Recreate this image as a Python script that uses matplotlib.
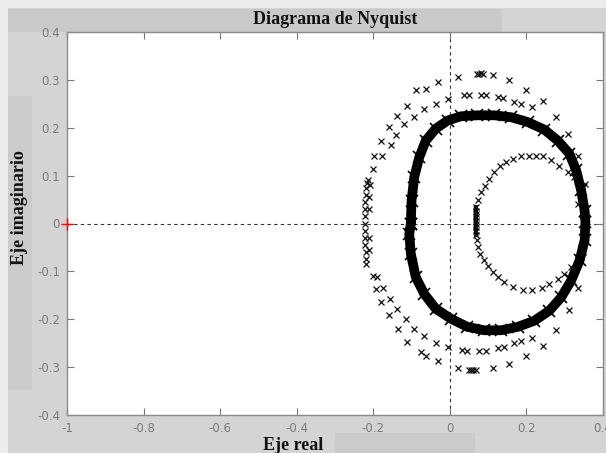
import matplotlib
matplotlib.use("Agg")
import matplotlib.pyplot as plt
from matplotlib.patches import Rectangle

# Frequency response samples (real, imaginary) read per branch

# main (dense) loop
dense_re = [-0.102, -0.100, -0.093, -0.080, -0.063, -0.037, -0.006, 0.029, 0.072, 0.116,
            0.160, 0.203, 0.247, 0.282, 0.312, 0.330, 0.343, 0.352, 0.354, 0.352,
            0.339, 0.317, 0.291, 0.260, 0.221, 0.177, 0.134, 0.090, 0.046, 0.003,
            -0.037, -0.067, -0.089, -0.102, -0.106, -0.102]
dense_im = [0.000, 0.048, 0.097, 0.138, 0.173, 0.198, 0.215, 0.224, 0.226, 0.226,
            0.222, 0.212, 0.196, 0.173, 0.146, 0.111, 0.069, 0.027, 0.003, -0.035,
            -0.077, -0.119, -0.154, -0.182, -0.203, -0.216, -0.223, -0.223, -0.216, -0.199,
            -0.178, -0.147, -0.112, -0.063, -0.022, 0.000]

# low-frequency stub of the small loop (vertical bar)
stub_re = [0.068, 0.068, 0.068, 0.068, 0.068, 0.068, 0.068, 0.068, 0.069]
stub_im = [0.034, 0.027, 0.020, 0.013, 0.006, -0.001, -0.008, -0.015, -0.024]

# inner small loop
small_re = [0.074, 0.081, 0.092, 0.103, 0.116, 0.132, 0.147, 0.164, 0.186, 0.208,
            0.225, 0.243, 0.264, 0.286, 0.308, 0.325, 0.338, 0.347,
            0.334, 0.317, 0.299, 0.282, 0.260, 0.241, 0.214, 0.190, 0.164, 0.142,
            0.125, 0.112, 0.099, 0.088, 0.079, 0.074, 0.071]
small_im = [0.049, 0.065, 0.079, 0.093, 0.107, 0.120, 0.128, 0.135, 0.142, 0.142,
            0.142, 0.140, 0.133, 0.121, 0.107, 0.097, 0.079, -0.060,
            -0.077, -0.091, -0.105, -0.115, -0.126, -0.135, -0.138, -0.138, -0.133, -0.122,
            -0.112, -0.102, -0.088, -0.076, -0.063, -0.049, -0.035]

# outer sparse branch, far track
outer_re = [-0.222, -0.222, -0.221, -0.221, -0.220, -0.219, -0.217, -0.215, -0.198, -0.181,
            -0.159, -0.137, -0.111, -0.089, -0.063, -0.032, 0.020, 0.072, 0.077, 0.082,
            0.086, 0.112, 0.155, 0.199, 0.243, 0.277, 0.308, 0.336,
            -0.222, -0.221, -0.221, -0.220, -0.220, -0.194, -0.181, -0.159, -0.135, -0.111,
            -0.076, -0.063, -0.032, 0.020, 0.051, 0.055, 0.060, 0.068, 0.112, 0.155,
            0.199, 0.243, 0.277, 0.311, 0.336]
outer_im = [0.000, 0.015, 0.030, 0.045, 0.060, 0.075, 0.085, 0.090, 0.142, 0.173,
            0.201, 0.225, 0.246, 0.278, 0.281, 0.295, 0.307, 0.313, 0.312, 0.314,
            0.313, 0.311, 0.299, 0.279, 0.255, 0.222, 0.187, 0.141,
            -0.015, -0.030, -0.045, -0.060, -0.075, -0.136, -0.164, -0.192, -0.220, -0.248,
            -0.269, -0.276, -0.288, -0.301, -0.305, -0.306, -0.305, -0.305, -0.301, -0.293,
            -0.276, -0.255, -0.222, -0.180, -0.135]

# outer sparse branch, near track
mid_re = [-0.212, -0.211, -0.208, -0.202, -0.176, -0.154, -0.141, -0.119, -0.093, -0.067,
          -0.037, -0.006, 0.037, 0.051, 0.081, 0.094, 0.125, 0.138, 0.168, 0.186,
          0.215, 0.352, 0.334,
          -0.212, -0.211, -0.220, -0.202, -0.189, -0.174, -0.156, -0.139, -0.115, -0.093,
          -0.067, -0.037, -0.006, 0.033, 0.046, 0.077, 0.094, 0.125, 0.142, 0.168,
          0.186, 0.215]
mid_im = [0.030, 0.055, 0.080, 0.114, 0.142, 0.163, 0.184, 0.208, 0.222, 0.239,
          0.250, 0.260, 0.269, 0.269, 0.269, 0.269, 0.265, 0.262, 0.253, 0.250,
          0.243, 0.083, 0.041,
          -0.030, -0.055, -0.084, -0.109, -0.112, -0.135, -0.157, -0.178, -0.199, -0.220,
          -0.234, -0.250, -0.258, -0.265, -0.267, -0.267, -0.267, -0.260, -0.258, -0.250,
          -0.246, -0.240]

x_ticks = [-1, -0.8, -0.6, -0.4, -0.2, 0, 0.2, 0.4]
x_tick_labels = ["-1", "-0.8", "-0.6", "-0.4", "-0.2", "0", "0.2", "0.4"]
y_ticks = [-0.4, -0.3, -0.2, -0.1, 0, 0.1, 0.2, 0.3, 0.4]
y_tick_labels = ["-0.4", "-0.3", "-0.2", "-0.1", "0", "0.1", "0.2", "0.3", "0.4"]

W, H = 606, 453
bg = "#d4d4d4"

fig = plt.figure(figsize=(W / 100, H / 100), dpi=100, facecolor=bg)


def px_rect(x0, y0, x1, y1, color):
    # rectangle given in pixel coords from the top-left corner
    fig.add_artist(Rectangle((x0 / W, 1 - y1 / H), (x1 - x0) / W, (y1 - y0) / H,
                             transform=fig.transFigure, facecolor=color,
                             edgecolor="none", zorder=0))


px_rect(0, 0, W, 8, "#ececec")
px_rect(0, 0, 8, H, "#ececec")
px_rect(8, 9, 502, 32, "#c9c9c9")
px_rect(8, 96, 32, 390, "#cbcbcb")
px_rect(335, 433, 475, H, "#cbcbcb")

ax = fig.add_axes([67 / W, 1 - 415 / H, (603 - 67) / W, (415 - 32) / H])
ax.set_facecolor("white")

ax.axhline(0, color="#333333", lw=0.8, ls=(0, (3, 3)), zorder=1)
ax.axvline(0, color="#333333", lw=0.8, ls=(0, (3, 3)), zorder=1)

mk = dict(ls="none", marker="x", color="#111111", ms=5, mew=0.9, zorder=3)
ax.plot(outer_re, outer_im, **mk)
ax.plot(mid_re, mid_im, **mk)
ax.plot(small_re, small_im, **mk)
ax.plot(stub_re, stub_im, color="black", lw=3, zorder=3)
ax.plot(stub_re, stub_im, **mk)
ax.plot(dense_re, dense_im, color="black", lw=7, solid_capstyle="round", zorder=2)
ax.plot(dense_re, dense_im, ls="none", marker="x", color="black", ms=8, mew=1.2, zorder=3)

# critical point
ax.plot([-1], [0], marker="+", color="red", ms=8, mew=1.0, zorder=4, clip_on=False)

ax.set_xlim(-1, 0.4)
ax.set_ylim(-0.4, 0.4)
ax.set_xticks(x_ticks)
ax.set_xticklabels(x_tick_labels)
ax.set_yticks(y_ticks)
ax.set_yticklabels(y_tick_labels)
ax.tick_params(direction="in", length=5, width=0.8, color="#777777",
               labelcolor="#7a7a7a", labelsize=8.5, top=True, right=True, pad=5)
for s in ax.spines.values():
    s.set_color("#8a8a8a")
    s.set_linewidth(1.0)

serif = dict(family="Liberation Serif", weight="bold", size=13, color="#111111")
fig.text(335 / W, 1 - 20 / H, "Diagrama de Nyquist", ha="center", va="center", **serif)
fig.text(20 / W, 1 - 208 / H, "Eje imaginario", ha="center", va="center",
         rotation=90, **serif)
fig.text(293 / W, 1 - 445 / H, "Eje real", ha="center", va="center", **serif)

fig.savefig("out.png", dpi=100, facecolor=bg)
